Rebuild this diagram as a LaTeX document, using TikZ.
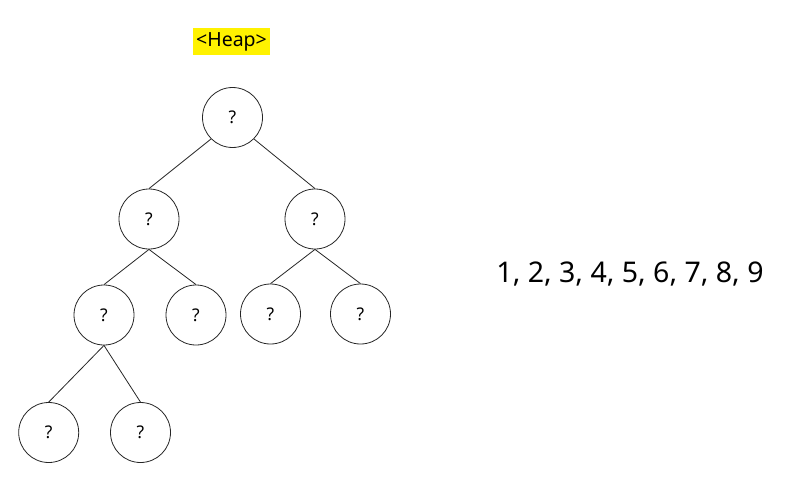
\documentclass[tikz,border=0pt]{standalone}
\usepackage{fontspec}
\setmainfont{Noto Sans}
\begin{document}
\begin{tikzpicture}[x=1pt,y=-1pt,
  hnode/.style={circle,draw=black!85,line width=0.8pt,minimum size=60pt,inner sep=0pt,font=\fontsize{17.5}{20}\selectfont},
  edge/.style={draw=black!85,line width=0.8pt}]
\useasboundingbox (0,0) rectangle (800,487);
\node[fill=yellow,inner sep=0pt,minimum width=77pt,minimum height=27pt,font=\fontsize{19.5}{22}\selectfont] (title) at (231.5,41.5) {<Heap>};
\node[hnode] (r) at (232.5,117.5) {?};
\node[hnode] (a) at (149,219) {?};
\node[hnode] (b) at (315,219) {?};
\node[hnode] (c) at (104,315) {?};
\node[hnode] (d) at (196,315) {?};
\node[hnode] (e) at (270.5,314) {?};
\node[hnode] (f) at (360.5,314) {?};
\node[hnode] (g) at (48.7,432.5) {?};
\node[hnode] (h) at (140.5,432.5) {?};
\node[font=\fontsize{28.5}{32}\selectfont] (seq) at (630,274) {1, 2, 3, 4, 5, 6, 7, 8, 9};
\draw[edge] (r.south west) -- (a.north);
\draw[edge] (r.south east) -- (b.north);
\draw[edge] (a.south) -- (c.north);
\draw[edge] (a.south) -- (d.north);
\draw[edge] (b.south) -- (e.north);
\draw[edge] (b.south) -- (f.north);
\draw[edge] (c.south) -- (g.north);
\draw[edge] (c.south) -- (h.north);
\end{tikzpicture}
\end{document}
